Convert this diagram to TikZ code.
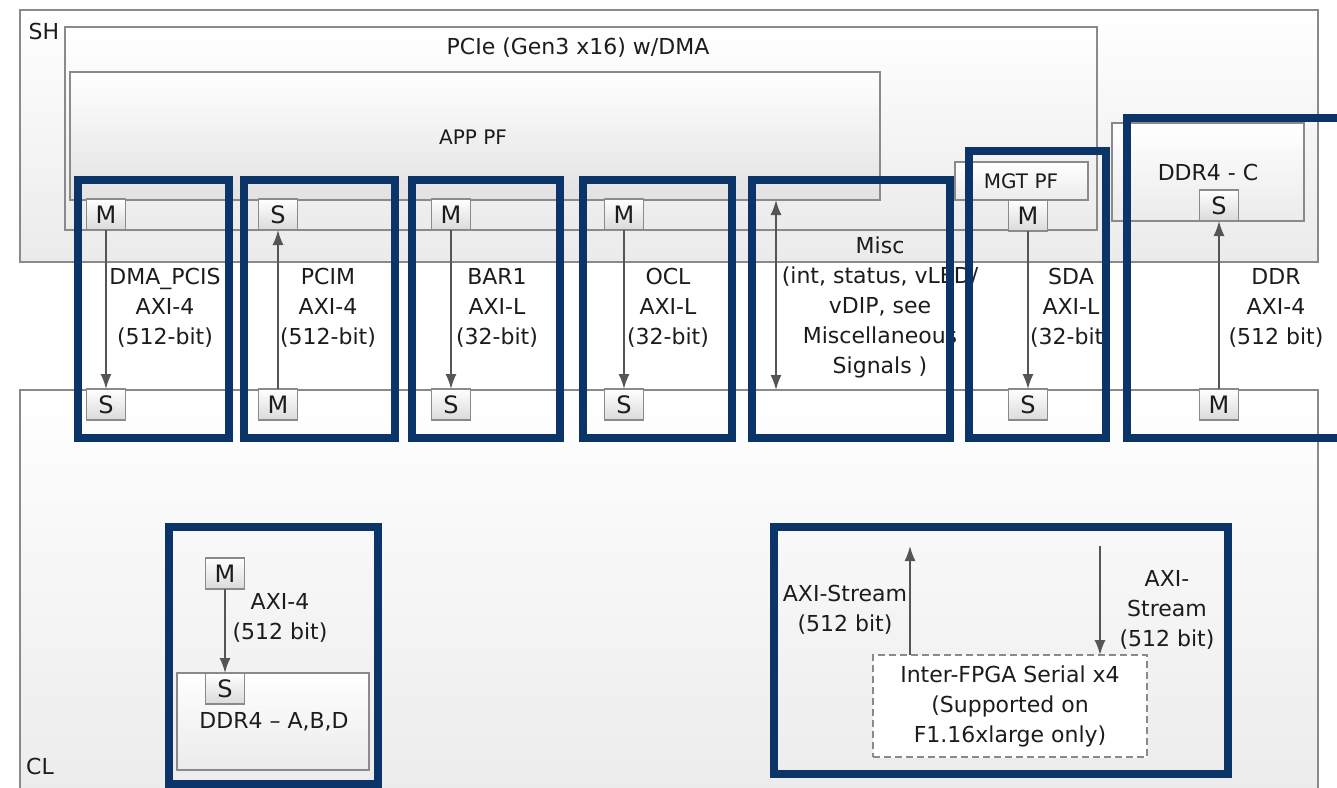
\documentclass[tikz,border=0pt]{standalone}
\usepackage{fontspec}
\setmainfont{DejaVu Sans}
\usetikzlibrary{arrows.meta}
\definecolor{frame}{HTML}{8A8A8A}
\definecolor{hl}{HTML}{0B3468}
\definecolor{ink}{HTML}{1C1C1C}
\definecolor{wire}{HTML}{555555}
\definecolor{shadeA}{HTML}{EBEBEB}
\definecolor{shadeB}{HTML}{DADADA}

\tikzset{
  block/.style={draw=frame, line width=1.8pt, top color=white, bottom color=shadeA,
    anchor=north west, inner sep=0pt, outer sep=0pt},
  port/.style={draw=frame, line width=1.5pt, top color=white, bottom color=shadeB,
    anchor=north, minimum width=39pt, minimum height=31pt, inner sep=0pt,
    outer sep=0pt, text=ink, font=\fontsize{24}{26}\selectfont},
  txt/.style={text=ink, align=center, inner sep=0pt, font=\fontsize{22}{30}\selectfont},
  tip/.style={Latex[length=15pt,width=11pt]},
  link/.style={draw=wire, line width=1.6pt, -{Latex[length=15pt,width=11pt]}},
  focus/.style={draw=hl, line width=7.5pt}
}

\begin{document}
\begin{tikzpicture}[x=1pt,y=-1pt]
\useasboundingbox (0,0) rectangle (1337,787);
\fill[white] (0,0) rectangle (1337,787);

% shell and custom logic regions
\node[block, minimum width=1298pt, minimum height=252pt] (sh) at (20,10) {};
\node[block, minimum width=1298pt, minimum height=420pt] (cl) at (20,390) {};
\node[block, minimum width=1032pt, minimum height=203pt] (pcie) at (65,27) {};
\node[block, minimum width=810pt, minimum height=128pt, bottom color=shadeB!80] (app) at (70,72) {};
\node[block, minimum width=133pt, minimum height=38pt] (mgt) at (955,162) {};
\node[block, minimum width=192pt, minimum height=98pt] (ddrc) at (1112,123) {};
\node[block, minimum width=192pt, minimum height=97pt] (ddrabd) at (177,673) {};
\node[block, minimum width=274pt, minimum height=102pt, dashed, dash pattern=on 7pt off 4pt,
      top color=white, bottom color=white] (fpga) at (873,655) {};

% block titles
\node[txt] (shlbl) at (44,31) {SH};
\node[txt] (cllbl) at (40,766) {CL};
\node[txt] (pcielbl) at (578,48) {PCIe (Gen3 x16) w/DMA};
\node[txt, font=\fontsize{20}{24}\selectfont] (applbl) at (473,137) {APP PF};
\node[txt, font=\fontsize{20}{24}\selectfont] (mgtlbl) at (1021,181) {MGT PF};
\node[txt] (ddrclbl) at (1208,172) {DDR4 - C};
\node[txt] (ddrabdlbl) at (274,722) {DDR4 – A,B,D};
\node[txt] (fpgalbl) at (1010,706) {Inter-FPGA Serial x4\\(Supported on\\F1.16xlarge only)};

% interface ports on the shell side
\node[port] (p1t) at (106,199) {M};
\node[port] (p2t) at (278,199) {S};
\node[port] (p3t) at (451,199) {M};
\node[port] (p4t) at (624,199) {M};
\node[port] (p6t) at (1028,200) {M};
\node[port] (p7t) at (1219,190) {S};

% interface ports on the CL side
\node[port] (p1b) at (106,389) {S};
\node[port] (p2b) at (278,389) {M};
\node[port] (p3b) at (451,389) {S};
\node[port] (p4b) at (624,389) {S};
\node[port] (p6b) at (1028,389) {S};
\node[port] (p7b) at (1219,389) {M};

% DDR4 A,B,D ports
\node[port] (pam) at (225,558) {M};
\node[port] (pas) at (225,673) {S};

% misc signal ends and stream ends
\coordinate (misct) at (776,200);
\coordinate (miscb) at (776,390);
\coordinate (strup) at (910,546);
\coordinate (strdn) at (1100,546);

% connectors
\draw[link] (p1t.south) -- (p1b.north);
\draw[link] (p2b.north) -- (p2t.south);
\draw[link] (p3t.south) -- (p3b.north);
\draw[link] (p4t.south) -- (p4b.north);
\draw[link, {Latex[length=15pt,width=11pt]}-{Latex[length=15pt,width=11pt]}] (misct) -- (miscb);
\draw[link] (p6t.south) -- (p6b.north);
\draw[link] (p7b.north) -- (p7t.south);
\draw[link] (pam.south) -- (pas.north);
\draw[link] (fpga.north -| strup) -- (strup);
\draw[link] (strdn) -- (fpga.north -| strdn);

% interface labels
\node[txt] (l1) at (165,308) {DMA\_PCIS\\AXI-4\\(512-bit)};
\node[txt] (l2) at (328,308) {PCIM\\AXI-4\\(512-bit)};
\node[txt] (l3) at (497,308) {BAR1\\AXI-L\\(32-bit)};
\node[txt] (l4) at (668,308) {OCL\\AXI-L\\(32-bit)};
\node[txt] (l5) at (880,307) {Misc\\(int, status, vLED/\\vDIP, see\\Miscellaneous\\Signals )};
\node[txt] (l6) at (1071,308) {SDA\\AXI-L\\(32-bit)};
\node[txt] (l7) at (1276,308) {DDR\\AXI-4\\(512 bit)};
\node[txt] (l8) at (280,618) {AXI-4\\(512 bit)};
\node[txt] (l9) at (845,610) {AXI-Stream\\(512 bit)};
\node[txt] (l10) at (1167,610) {AXI-\\Stream\\(512 bit)};

% highlight frames
\draw[focus] (78,180) rectangle (229,438);
\draw[focus] (244,180) rectangle (395,438);
\draw[focus] (412,180) rectangle (560,438);
\draw[focus] (583,180) rectangle (732,438);
\draw[focus] (752,180) rectangle (950,438);
\draw[focus] (969,151) rectangle (1106,438);
\draw[focus] (1127,118) rectangle (1360,438);
\draw[focus] (169,527) rectangle (378,784);
\draw[focus] (774,527) rectangle (1228,774);
\end{tikzpicture}
\end{document}
